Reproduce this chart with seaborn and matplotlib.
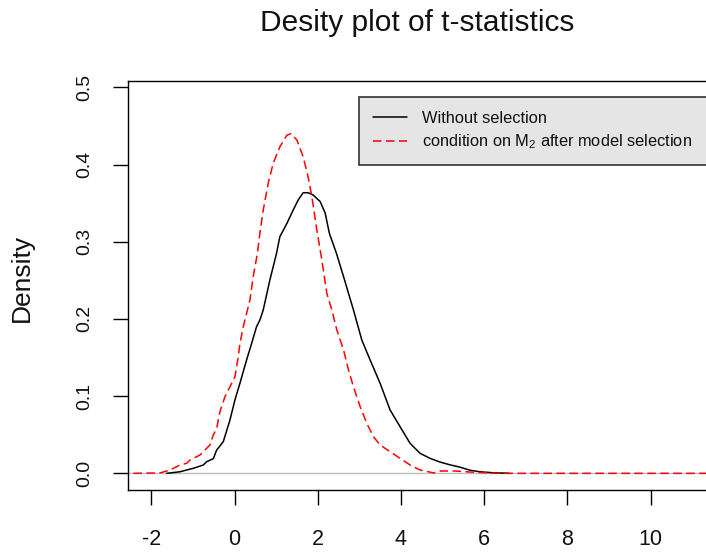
import numpy as np
import pandas as pd
import matplotlib
matplotlib.use("Agg")
import matplotlib.pyplot as plt
import seaborn as sns

sns.set_style("white")
plt.rcParams['font.family'] = ['Liberation Sans', 'DejaVu Sans']
plt.rcParams['axes.unicode_minus'] = False
plt.rcParams['mathtext.fontset'] = 'custom'
plt.rcParams['mathtext.rm'] = 'Liberation Sans'

# ---- data ----
title = "Desity plot of t-statistics"
ylabel = "Density"
label_without = "Without selection"
label_cond = r"condition on M$_{\mathregular{2}}$ after model selection"

x_without = [-1.63, -1.31, -1.15, -0.99, -0.75, -0.67, -0.51, -0.43, -0.27, -0.11, 0.01,
             0.13, 0.29, 0.41, 0.53, 0.61, 0.69, 0.85, 1.01, 1.09, 1.26, 1.41, 1.53,
             1.65, 1.77, 1.89, 2.06, 2.18, 2.28, 2.45, 2.62, 2.86, 3.06, 3.26, 3.50,
             3.74, 3.98, 4.22, 4.46, 4.70, 4.94, 5.18, 5.42, 5.66, 5.90, 6.20, 6.60]
y_without = [0.0, 0.002, 0.0043, 0.0065, 0.0108, 0.015, 0.019, 0.030, 0.041, 0.069, 0.095,
             0.1166, 0.1468, 0.168, 0.190, 0.1986, 0.2115, 0.2504, 0.285, 0.3065, 0.3238, 0.341, 0.354,
             0.3635, 0.3635, 0.3605, 0.352, 0.337, 0.311, 0.285, 0.255, 0.2115, 0.1727, 0.1468, 0.1166,
             0.082, 0.0604, 0.0389, 0.0259, 0.0194, 0.0146, 0.011, 0.008, 0.004, 0.002, 0.0008, 0.0]

x_cond = [-2.43, -1.79, -1.55, -1.31, -1.15, -1.07, -0.83, -0.59, -0.51, -0.43, -0.35,
          -0.23, -0.11, 0.01, 0.09, 0.13, 0.21, 0.29, 0.37, 0.45, 0.55, 0.61, 0.69,
          0.81, 0.93, 1.09, 1.26, 1.36, 1.50, 1.65, 1.77, 1.86, 1.98, 2.10, 2.22,
          2.34, 2.46, 2.62, 2.74, 2.86, 3.02, 3.18, 3.34, 3.50, 3.74, 3.98, 4.22,
          4.46, 4.66, 4.78, 4.95, 5.30, 5.70, 6.20, 6.60, 12.0]
y_cond = [0.0, 0.0005, 0.0043, 0.0108, 0.013, 0.0172, 0.0237, 0.0367, 0.0496, 0.058, 0.080,
          0.0992, 0.112, 0.125, 0.151, 0.168, 0.190, 0.207, 0.2245, 0.2547, 0.285, 0.311, 0.341,
          0.3756, 0.4016, 0.423, 0.438, 0.440, 0.4317, 0.410, 0.384, 0.358, 0.315, 0.276, 0.233,
          0.2115, 0.1856, 0.160, 0.134, 0.112, 0.0863, 0.0648, 0.0474, 0.0367, 0.028, 0.0194, 0.0108,
          0.0043, 0.002, 0.0005, 0.003, 0.003, 0.0015, 0.0003, 0.0, 0.0]

x_ticks = [-2, 0, 2, 4, 6, 8, 10]
y_ticks = [0.0, 0.1, 0.2, 0.3, 0.4, 0.5]
y_ticklabels = ["0.0", "0.1", "0.2", "0.3", "0.4", "0.5"]

df_w = pd.DataFrame({"x": x_without, "y": y_without})
df_c = pd.DataFrame({"x": x_cond, "y": y_cond})

W, H = 706, 552
fig = plt.figure(figsize=(W / 100, H / 100), dpi=100)
ax_left, ax_right, ax_top, ax_bottom = 128.3, 725.4, 80.7, 490.0
ax = fig.add_axes([ax_left / W, 1 - ax_bottom / H, (ax_right - ax_left) / W, (ax_bottom - ax_top) / H])

ax.axhline(0, color="#BEBEBE", lw=1.0, zorder=1)
sns.lineplot(data=df_w, x="x", y="y", ax=ax, color="black", lw=1.1,
             estimator=None, sort=False, label=label_without, zorder=3)
sns.lineplot(data=df_c, x="x", y="y", ax=ax, color="red", lw=1.1,
             estimator=None, sort=False, label=label_cond, zorder=4)
ax.lines[-1].set_dashes((5.6, 2.9))

ax.set_xlim(-2.553, 11.8)
ax.set_ylim(-0.0216, 0.5086)
ax.set_xticks(x_ticks)
ax.set_xticklabels([str(t) for t in x_ticks])
ax.set_yticks(y_ticks)
ax.set_yticklabels(y_ticklabels, rotation=90, va="center")
ax.set_xlabel("")
ax.set_ylabel("")

for s in ax.spines.values():
    s.set_color("black")
    s.set_linewidth(1.0)
ax.tick_params(axis="both", direction="out", length=10.5, width=1.0, color="black",
               bottom=True, left=True, labelcolor="#111111")
ax.tick_params(axis="x", pad=17.5, labelsize=15.5)
ax.tick_params(axis="y", pad=15, labelsize=14)

fig.text(417 / W, 1 - 30.7 / H, title, ha="center", va="baseline", fontsize=21.5, color="#111111")
fig.text(22 / W, 1 - 278 / H, ylabel, ha="center", va="center", rotation=90,
         fontsize=19, color="#111111")

leg_x0, leg_top, leg_x1 = 359 / W, 1 - 96.7 / H, 722 / W
leg = ax.legend(loc="upper left", bbox_to_anchor=(leg_x0, leg_top - 0.2, leg_x1 - leg_x0, 0.2),
                bbox_transform=fig.transFigure, mode="expand", frameon=True, fancybox=False,
                fontsize=11.8, borderpad=0.85, handlelength=2.1, handletextpad=0.9,
                labelspacing=0.42, borderaxespad=0)
frame = leg.get_frame()
frame.set_facecolor("#E5E5E5")
frame.set_edgecolor("#333333")
frame.set_linewidth(1.2)
frame.set_alpha(1)
for t in leg.get_texts():
    t.set_color("#111111")

fig.savefig("out.png", dpi=100)
